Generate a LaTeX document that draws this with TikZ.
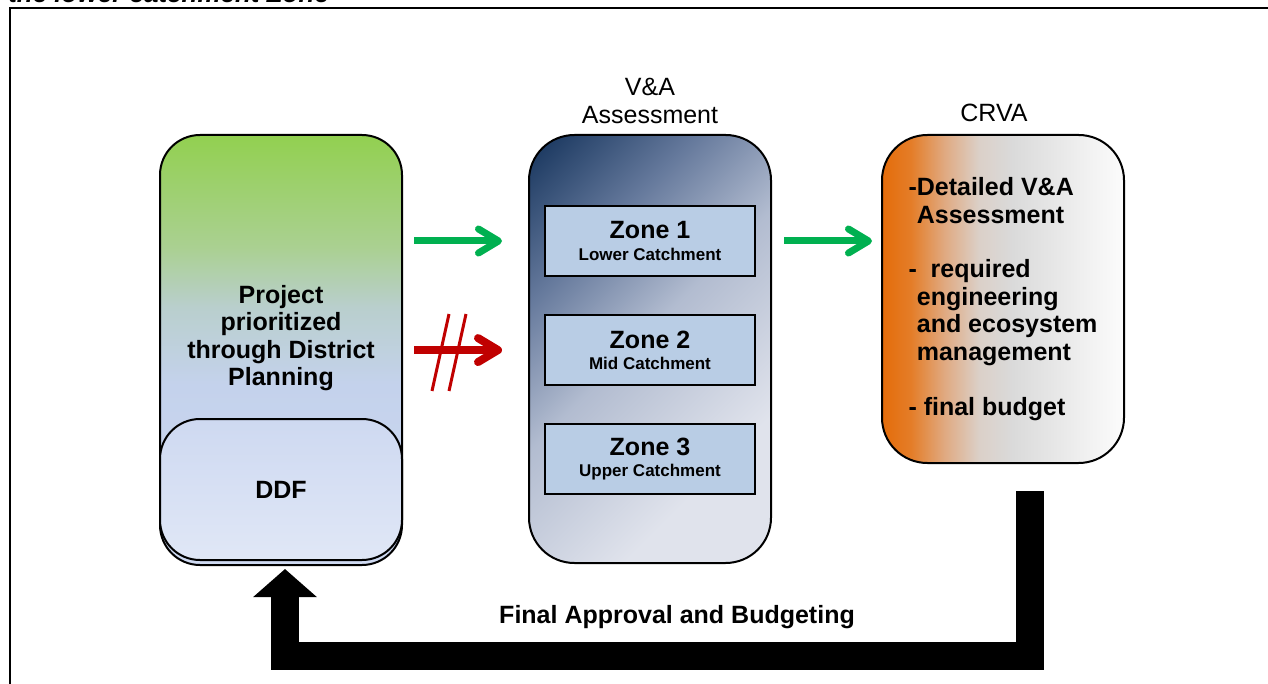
\documentclass[tikz,border=0pt]{standalone}
\usepackage{fontspec}
\setmainfont{Liberation Sans}
\usetikzlibrary{positioning,arrows.meta}

\definecolor{planGreen}{RGB}{146,208,80}
\definecolor{planSage}{RGB}{170,208,145}
\definecolor{planMist}{RGB}{185,207,205}
\definecolor{planBlue}{RGB}{196,210,236}
\definecolor{ddfTop}{RGB}{206,217,241}
\definecolor{ddfBottom}{RGB}{224,231,246}
\definecolor{vaDark}{RGB}{25,55,95}
\definecolor{vaMid}{RGB}{100,120,155}
\definecolor{vaLight}{RGB}{178,188,208}
\definecolor{vaPale}{RGB}{224,227,236}
\definecolor{zoneFill}{RGB}{185,205,229}
\definecolor{crvaOrange}{RGB}{228,108,10}
\definecolor{crvaRust}{RGB}{228,125,40}
\definecolor{crvaPeach}{RGB}{224,170,130}
\definecolor{crvaSand}{RGB}{219,208,200}
\definecolor{crvaGray}{RGB}{218,218,218}
\definecolor{crvaWhite}{RGB}{252,252,252}
\definecolor{okGreen}{RGB}{0,176,80}
\definecolor{stopRed}{RGB}{192,0,0}

\pgfdeclareverticalshading{planshade}{100bp}{color(0bp)=(ddfTop); color(25bp)=(ddfTop); color(46bp)=(planBlue); color(55bp)=(planMist); color(62bp)=(planSage); color(75bp)=(planGreen); color(100bp)=(planGreen)}
\pgfdeclarehorizontalshading{vashade}{100bp}{color(0bp)=(vaDark); color(16bp)=(vaDark); color(32bp)=(vaMid); color(48bp)=(vaLight); color(70bp)=(vaPale); color(100bp)=(vaPale)}
\pgfdeclarehorizontalshading{crvashade}{100bp}{color(0bp)=(crvaOrange); color(25bp)=(crvaOrange); color(31bp)=(crvaRust); color(38bp)=(crvaPeach); color(45bp)=(crvaSand); color(52bp)=(crvaGray); color(75bp)=(crvaWhite); color(100bp)=(crvaWhite)}

\newcommand{\catchment}[1]{{\fontsize{12.75}{15}\selectfont #1}}

\begin{document}
\begin{tikzpicture}[x=0.75pt, y=-0.75pt,
  box/.style={draw, line width=1.5pt, rounded corners=30pt, minimum width=181.5pt},
  boxtext/.style={font=\bfseries\fontsize{18.75}{20.6}\selectfont, align=center},
  titletext/.style={font=\fontsize{18.75}{21}\selectfont, align=center},
  zone/.style={draw, line width=1.8pt, fill=zoneFill, minimum width=157.5pt, minimum height=52.5pt,
    align=center, font=\bfseries\fontsize{18.75}{16}\selectfont},
  go/.style={okGreen, line width=5.25pt, -{Straight Barb[length=15pt,width=18pt,line cap=round,line join=round]}},
  stop/.style={stopRed, line width=6pt, -{Straight Barb[length=15pt,width=18pt,line cap=round,line join=round]}},
  stopmark/.style={stopRed, line width=2.25pt},
  loopback/.style={line width=21pt, -{Triangle[width=46.5pt,length=21pt]}}]

  \useasboundingbox (0,0) rectangle (1268,684);

  % cut-off caption and frame
  \node (cuttext) [anchor=base west, inner sep=0pt, font=\bfseries\itshape\fontsize{19.5}{20}\selectfont] at (8,3) {the lower catchment Zone};
  \draw [line width=1.5pt] (9.5,684) -- (9.5,8) -- (1268,8);

  % left column
  \node (plan) [box, shading=planshade, minimum height=322.5pt] at (281,350) {};
  \node (ddf) [box, boxtext, top color=ddfTop, bottom color=ddfBottom, minimum height=105.75pt] at (281,489.5) {DDF};
  \node (plantext) [boxtext] at (281,338) {Project\\prioritized\\through District\\Planning};

  % middle column
  \node (va) [box, shading=vashade, shading angle=-45, rounded corners=34pt, minimum height=321pt] at (650,349) {};
  \node (vatitle) [titletext, above=4pt of va] {V\&A\\Assessment};
  \node (zone1) [zone] at (650,241) {Zone 1\\\catchment{Lower Catchment}};
  \node (zone2) [zone, below=27.5pt of zone1] {Zone 2\\\catchment{Mid Catchment}};
  \node (zone3) [zone, below=27.5pt of zone2] {Zone 3\\\catchment{Upper Catchment}};

  % right column
  \node (crva) [box, boxtext, align=left, shading=crvashade, rounded corners=34pt, minimum height=246pt] at (1003,299)
    {-Detailed V\&A\\\phantom{-}Assessment\\[20.6pt]- \ required\\\phantom{-}engineering\\\phantom{-}and ecosystem\\\phantom{-}management\\[20.6pt]- final budget};
  \node (crvatitle) [titletext, above=6pt of crva, xshift=-6.75pt] {CRVA};

  % arrows
  \draw [go, shorten <=8.25pt, shorten >=19.5pt] (plan.east |- zone1) -- (va.west |- zone1);
  \draw [stop, shorten <=8.25pt, shorten >=19.5pt] (plan.east |- zone2) -- (va.west |- zone2);
  \foreach \dx in {0,17}
    \draw [stopmark] (432+\dx,391) -- (449+\dx,314);
  \draw [go, shorten <=9pt, shorten >=6.75pt] (va.east |- zone1) -- (crva.west |- zone1);

  % feedback loop
  \coordinate (loopturn) at (285,656);
  \draw [loopback] ([xshift=20.25pt,yshift=-20.25pt]crva.south) |- (loopturn) -- ([xshift=3pt,yshift=-2.25pt]plan.south);
  \node (approval) [boxtext] at (677,617) {Final Approval and Budgeting};

\end{tikzpicture}
\end{document}
